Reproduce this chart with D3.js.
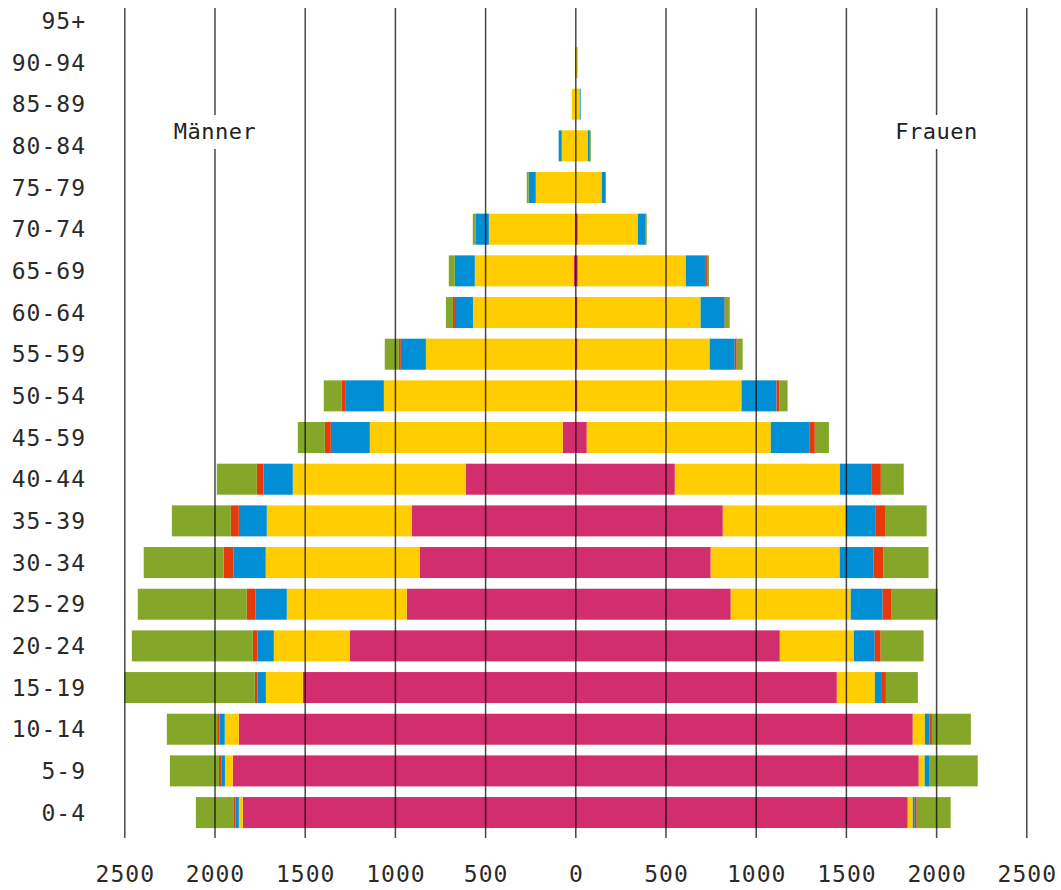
<!DOCTYPE html>
<html><head><meta charset="utf-8">
<script src="https://cdn.jsdelivr.net/npm/d3@7/dist/d3.min.js"></script>
<style>body{margin:0;background:#fff}svg{display:block}</style>
</head><body>
<svg id="c" width="1061" height="890"></svg>
<script>
const ages = ["0-4","5-9","10-14","15-19","20-24","25-29","30-34","35-39","40-44","45-59","50-54","55-59","60-64","65-69","70-74","75-79","80-84","85-89","90-94","95+"];
const keys = ["pink","yellow","blue","red","green"];
const colors = {pink:"#D22D6C", yellow:"#FFCD00", blue:"#008FD4", red:"#E8390D", green:"#84A729"};

const menPink   = [1846,1901,1868,1513,1253,937,865,909,610,72,6,5,5,11,5,0,0,0,0,0];
const menYellow = [22,44,78,205,421,665,854,804,959,1070,1058,826,565,549,477,222,78,22,5,0];
const menBlue   = [18,18,29,46,90,174,179,155,162,216,211,139,100,111,72,39,17,0,0,0];
const menRed    = [9,15,13,15,26,48,54,44,37,33,22,11,11,0,0,0,0,0,0,0];
const menGreen  = [211,272,279,722,671,604,443,327,222,150,100,78,39,33,17,11,0,0,0,0];

const womenPink   = [1840,1901,1868,1447,1131,859,748,815,549,61,10,10,10,11,11,0,0,0,0,0];
const womenYellow = [28,33,67,211,410,665,715,682,915,1020,909,732,682,599,333,144,67,22,11,0];
const womenBlue   = [11,24,26,39,116,177,188,166,177,216,194,139,133,111,44,22,11,5,0,0];
const womenRed    = [11,4,13,22,33,50,55,55,50,28,17,11,6,6,0,0,0,0,0,0];
const womenGreen  = [188,266,216,177,238,255,249,227,127,78,44,33,22,11,5,0,5,0,0,0];

const tickValues = [2500,2000,1500,1000,500,0];
const sideLabels = {left:"Männer", right:"Frauen"};

const svg = d3.select("#c");
const cx = 575.8, half = 451;
const xL = d3.scaleLinear().domain([0,2500]).range([cx, cx-half]);
const xR = d3.scaleLinear().domain([0,2500]).range([cx, cx+half]);
const y = d3.scaleBand().domain(ages.slice().reverse()).range([0,833.4]).paddingInner(0.256).paddingOuter(0.128);

function rows(p,yv,b,r,g){ return ages.map((a,i)=>({age:a,pink:p[i],yellow:yv[i],blue:b[i],red:r[i],green:g[i]})); }
const men = rows(menPink,menYellow,menBlue,menRed,menGreen);
const women = rows(womenPink,womenYellow,womenBlue,womenRed,womenGreen);
const stack = d3.stack().keys(keys);

function drawSide(data, xs, left){
  const series = stack(data);
  const g = svg.append("g");
  series.forEach(s=>{
    g.selectAll(null).data(s).enter().append("rect")
      .attr("x", d=> left ? xs(d[1]) : xs(d[0]))
      .attr("width", d=> Math.abs(xs(d[1])-xs(d[0])))
      .attr("y", d=> y(d.data.age))
      .attr("height", y.bandwidth())
      .attr("fill", colors[s.key]);
  });
}
drawSide(men, xL, true);
drawSide(women, xR, false);

// grid lines on top
const grid = svg.append("g");
const gridXs = tickValues.map(v=>xL(v)).concat(tickValues.filter(v=>v>0).map(v=>xR(v)));
grid.selectAll("line").data(gridXs).enter().append("line")
  .attr("x1",d=>d).attr("x2",d=>d).attr("y1",8).attr("y2",838)
  .attr("stroke","#000").attr("stroke-width",1.5).attr("stroke-opacity",0.72);

const font = "'DejaVu Sans Mono', monospace";

// side labels with white boxes
[[sideLabels.left, xL(2000)],[sideLabels.right, xR(2000)]].forEach(([t,xp])=>{
  const txt = svg.append("text").attr("x",xp).attr("y",139).attr("text-anchor","middle")
    .attr("font-family",font).attr("font-size",22).attr("letter-spacing",0.5).attr("fill","#222").text(t);
  const bb = txt.node().getBBox();
  svg.insert("rect", "text").attr("x",bb.x-4).attr("y",115).attr("width",bb.width+8).attr("height",34).attr("fill","#fff");
});

// age labels
svg.append("g").selectAll("text").data(ages).enter().append("text")
  .attr("x",86).attr("y",d=>y(d)+y.bandwidth()/2+8)
  .attr("text-anchor","end").attr("font-family",font).attr("font-size",23)
  .attr("letter-spacing",1).attr("fill","#2a2a2a").text(d=>d);

// bottom tick labels via axes
const fmt = d3.format("d");
const axL = d3.axisBottom(xL).tickValues(tickValues).tickFormat(fmt).tickSize(0).tickPadding(0);
const axR = d3.axisBottom(xR).tickValues(tickValues.filter(v=>v>0)).tickFormat(fmt).tickSize(0).tickPadding(0);
[axL, axR].forEach(ax=>{
  const g = svg.append("g").attr("transform","translate(0,866)").call(ax);
  g.select(".domain").remove();
  g.selectAll("text").attr("font-family",font).attr("font-size",23).attr("letter-spacing",1)
    .attr("fill","#2a2a2a").attr("dy","0.71em");
});
</script>
</body></html>
